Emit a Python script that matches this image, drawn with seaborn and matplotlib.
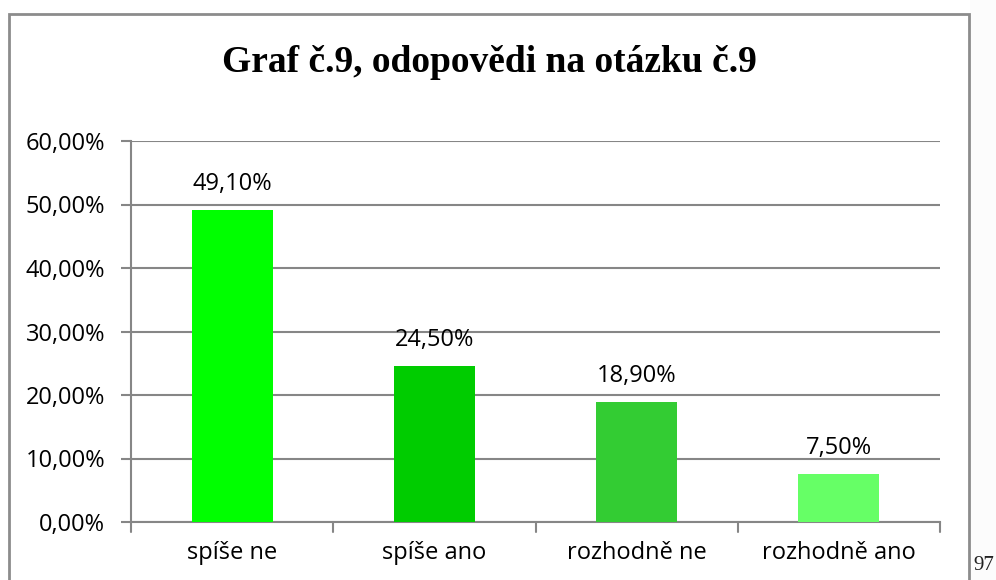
import matplotlib
matplotlib.use("Agg")
import matplotlib.pyplot as plt
import seaborn as sns
import pandas as pd
from matplotlib.patches import Rectangle

categories = ["spíše ne", "spíše ano", "rozhodně ne", "rozhodně ano"]
values = [49.10, 24.50, 18.90, 7.50]
colors = ["#00ff00", "#00cc00", "#33cc33", "#66ff66"]
yticks = [0, 10, 20, 30, 40, 50, 60]
title = "Graf č.9, odopovědi na otázku č.9"
page_number = "97"

sns.set_theme(style="white")
plt.rcParams['font.family'] = ['Open Sans', 'DejaVu Sans']

df = pd.DataFrame({"cat": categories, "val": values})

fig = plt.figure(figsize=(9.96, 5.80), dpi=100)
fig.patch.set_facecolor("white")

# light page margin on right
fig.patches.append(Rectangle((970/996, 0), 26/996, 1, transform=fig.transFigure,
                             facecolor="#fcfcfc", edgecolor="none", zorder=0))
# chart border
fig.patches.append(Rectangle((8.5/996, -0.05), (969-8.5)/996, 1.05 - 13.5/580,
                             transform=fig.transFigure, facecolor="none",
                             edgecolor="#8c8c8c", linewidth=2, zorder=1))

ax = fig.add_axes([131/996, 1 - 522/580, (940-131)/996, (522-141)/580])
sns.barplot(data=df, x="cat", y="val", hue="cat", palette=colors, legend=False,
            width=0.4, ax=ax, saturation=1, linewidth=0, edgecolor="none", zorder=3)

ax.set_ylim(0, 60)
ax.set_xlim(-0.5, 3.5)
ax.set_yticks(yticks)
ax.set_yticklabels([f"{v:.2f}".replace(".", ",") + "%" for v in yticks], fontsize=17)
ax.set_xticks(range(len(categories)))
ax.set_xticklabels(categories, fontsize=17)
ax.set_xlabel("")
ax.set_ylabel("")
ax.grid(axis="y", color="#868686", linewidth=1.5, zorder=0)
ax.set_axisbelow(True)
for s in ["top", "right"]:
    ax.spines[s].set_visible(False)
for s in ["left", "bottom"]:
    ax.spines[s].set_color("#868686")
    ax.spines[s].set_linewidth(1.5)
ax.tick_params(axis="y", length=7.5, width=1.5, color="#868686", left=True, pad=11, labelcolor="black")
ax.tick_params(axis="x", length=0, pad=14, labelcolor="black")
# boundary tick marks on x axis
for b in [-0.5, 0.5, 1.5, 2.5, 3.5]:
    ax.plot([b, b], [0, -1.5], color="#868686", linewidth=1.5, clip_on=False, zorder=4)

for i, v in enumerate(values):
    ax.text(i, v + 2.2, f"{v:.2f}".replace(".", ",") + "%", ha="center", va="bottom",
            fontsize=17, color="black")

fig.text(489/996, 1 - 63/580, title, ha="center", va="center", fontsize=27,
         fontweight="bold", family="Liberation Serif", color="black")
fig.text(984/996, 1 - 566/580, page_number, ha="center", va="center", fontsize=15,
         family="Liberation Serif", color="#222222")

fig.savefig("out.png", dpi=100, facecolor="white")
